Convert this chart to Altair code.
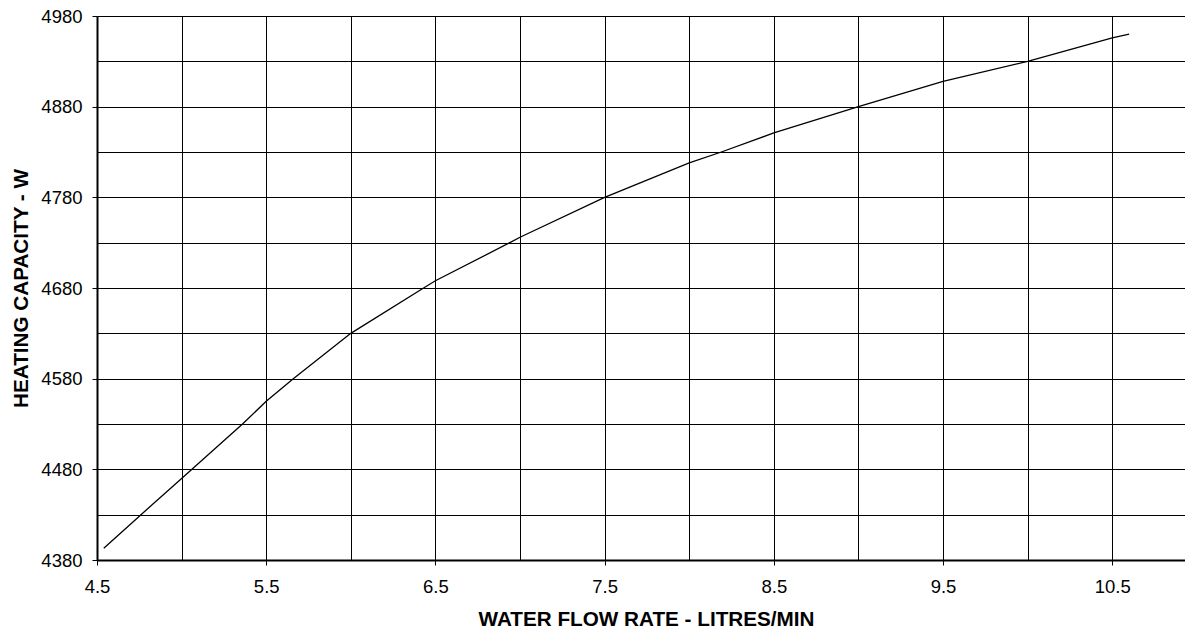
import altair as alt
import pandas as pd

# Curve
flow = [4.54, 4.76, 5.0, 5.36, 5.5, 5.66, 6.0, 6.43, 6.5, 6.94, 7.0, 7.5,
        8.0, 8.19, 8.5, 9.0, 9.5, 10.0, 10.5, 10.6]
capacity = [4393, 4430, 4470, 4530, 4555, 4580, 4630, 4680, 4688, 4730, 4736,
            4780, 4818, 4830, 4851, 4880, 4908, 4930, 4956, 4960]

# Axis grid / tick values
x_grid = [4.5, 5.0, 5.5, 6.0, 6.5, 7.0, 7.5, 8.0, 8.5, 9.0, 9.5, 10.0, 10.5]
y_grid = [4380, 4430, 4480, 4530, 4580, 4630, 4680, 4730, 4780, 4830, 4880, 4930, 4980]

df = pd.DataFrame({"flow": flow, "capacity": capacity})

FONT = "Liberation Sans"

x_axis = alt.Axis(
    title="WATER FLOW RATE - LITRES/MIN",
    values=x_grid,
    grid=True, gridColor="black", gridOpacity=1, gridWidth=1,
    domain=True, domainColor="black", domainWidth=2,
    ticks=True, tickColor="black", tickSize=5, tickWidth=1,
    tickOpacity={"condition": {"test": "datum.value % 1 == 0.5", "value": 1}, "value": 0},
    labelExpr="datum.value % 1 == 0.5 ? format(datum.value, '.1f') : ''",
    labelFont=FONT, labelFontSize=18.5, labelColor="black", labelPadding=12,
    labelOverlap=False, labelFlush=False,
    titleFont=FONT, titleFontSize=20.7, titleFontWeight="bold", titleColor="black",
    titleBaseline="alphabetic", titleY=65, titleX=549,
)

y_axis = alt.Axis(
    title="HEATING CAPACITY - W",
    values=y_grid,
    grid=True, gridColor="black", gridOpacity=1, gridWidth=1,
    domain=True, domainColor="black", domainWidth=2,
    ticks=True, tickColor="black", tickSize=5, tickWidth=1,
    tickOpacity={"condition": {"test": "(datum.value - 4380) % 100 == 0", "value": 1}, "value": 0},
    labelExpr="(datum.value - 4380) % 100 == 0 ? format(datum.value, 'd') : ''",
    labelFont=FONT, labelFontSize=18.5, labelColor="black", labelPadding=10,
    labelOverlap=False, labelFlush=False,
    titleFont=FONT, titleFontSize=20.7, titleFontWeight="bold", titleColor="black",
    titleBaseline="alphabetic", titleX=-70,
)

chart = (
    alt.Chart(df)
    .mark_line(color="black", strokeWidth=1.3)
    .encode(
        x=alt.X("flow:Q", scale=alt.Scale(domain=[4.5, 10.93], nice=False, zero=False), axis=x_axis),
        y=alt.Y("capacity:Q", scale=alt.Scale(domain=[4380, 4980], nice=False, zero=False), axis=y_axis),
    )
    .properties(
        width=1088,
        height=544,
        autosize=alt.AutoSizeParams(type="none"),
        padding={"left": 89, "top": 8, "right": 0, "bottom": 67},
        background="white",
    )
    .configure_view(strokeWidth=0)
)

chart.save("out.html", embed_options={"renderer": "svg", "actions": False})
